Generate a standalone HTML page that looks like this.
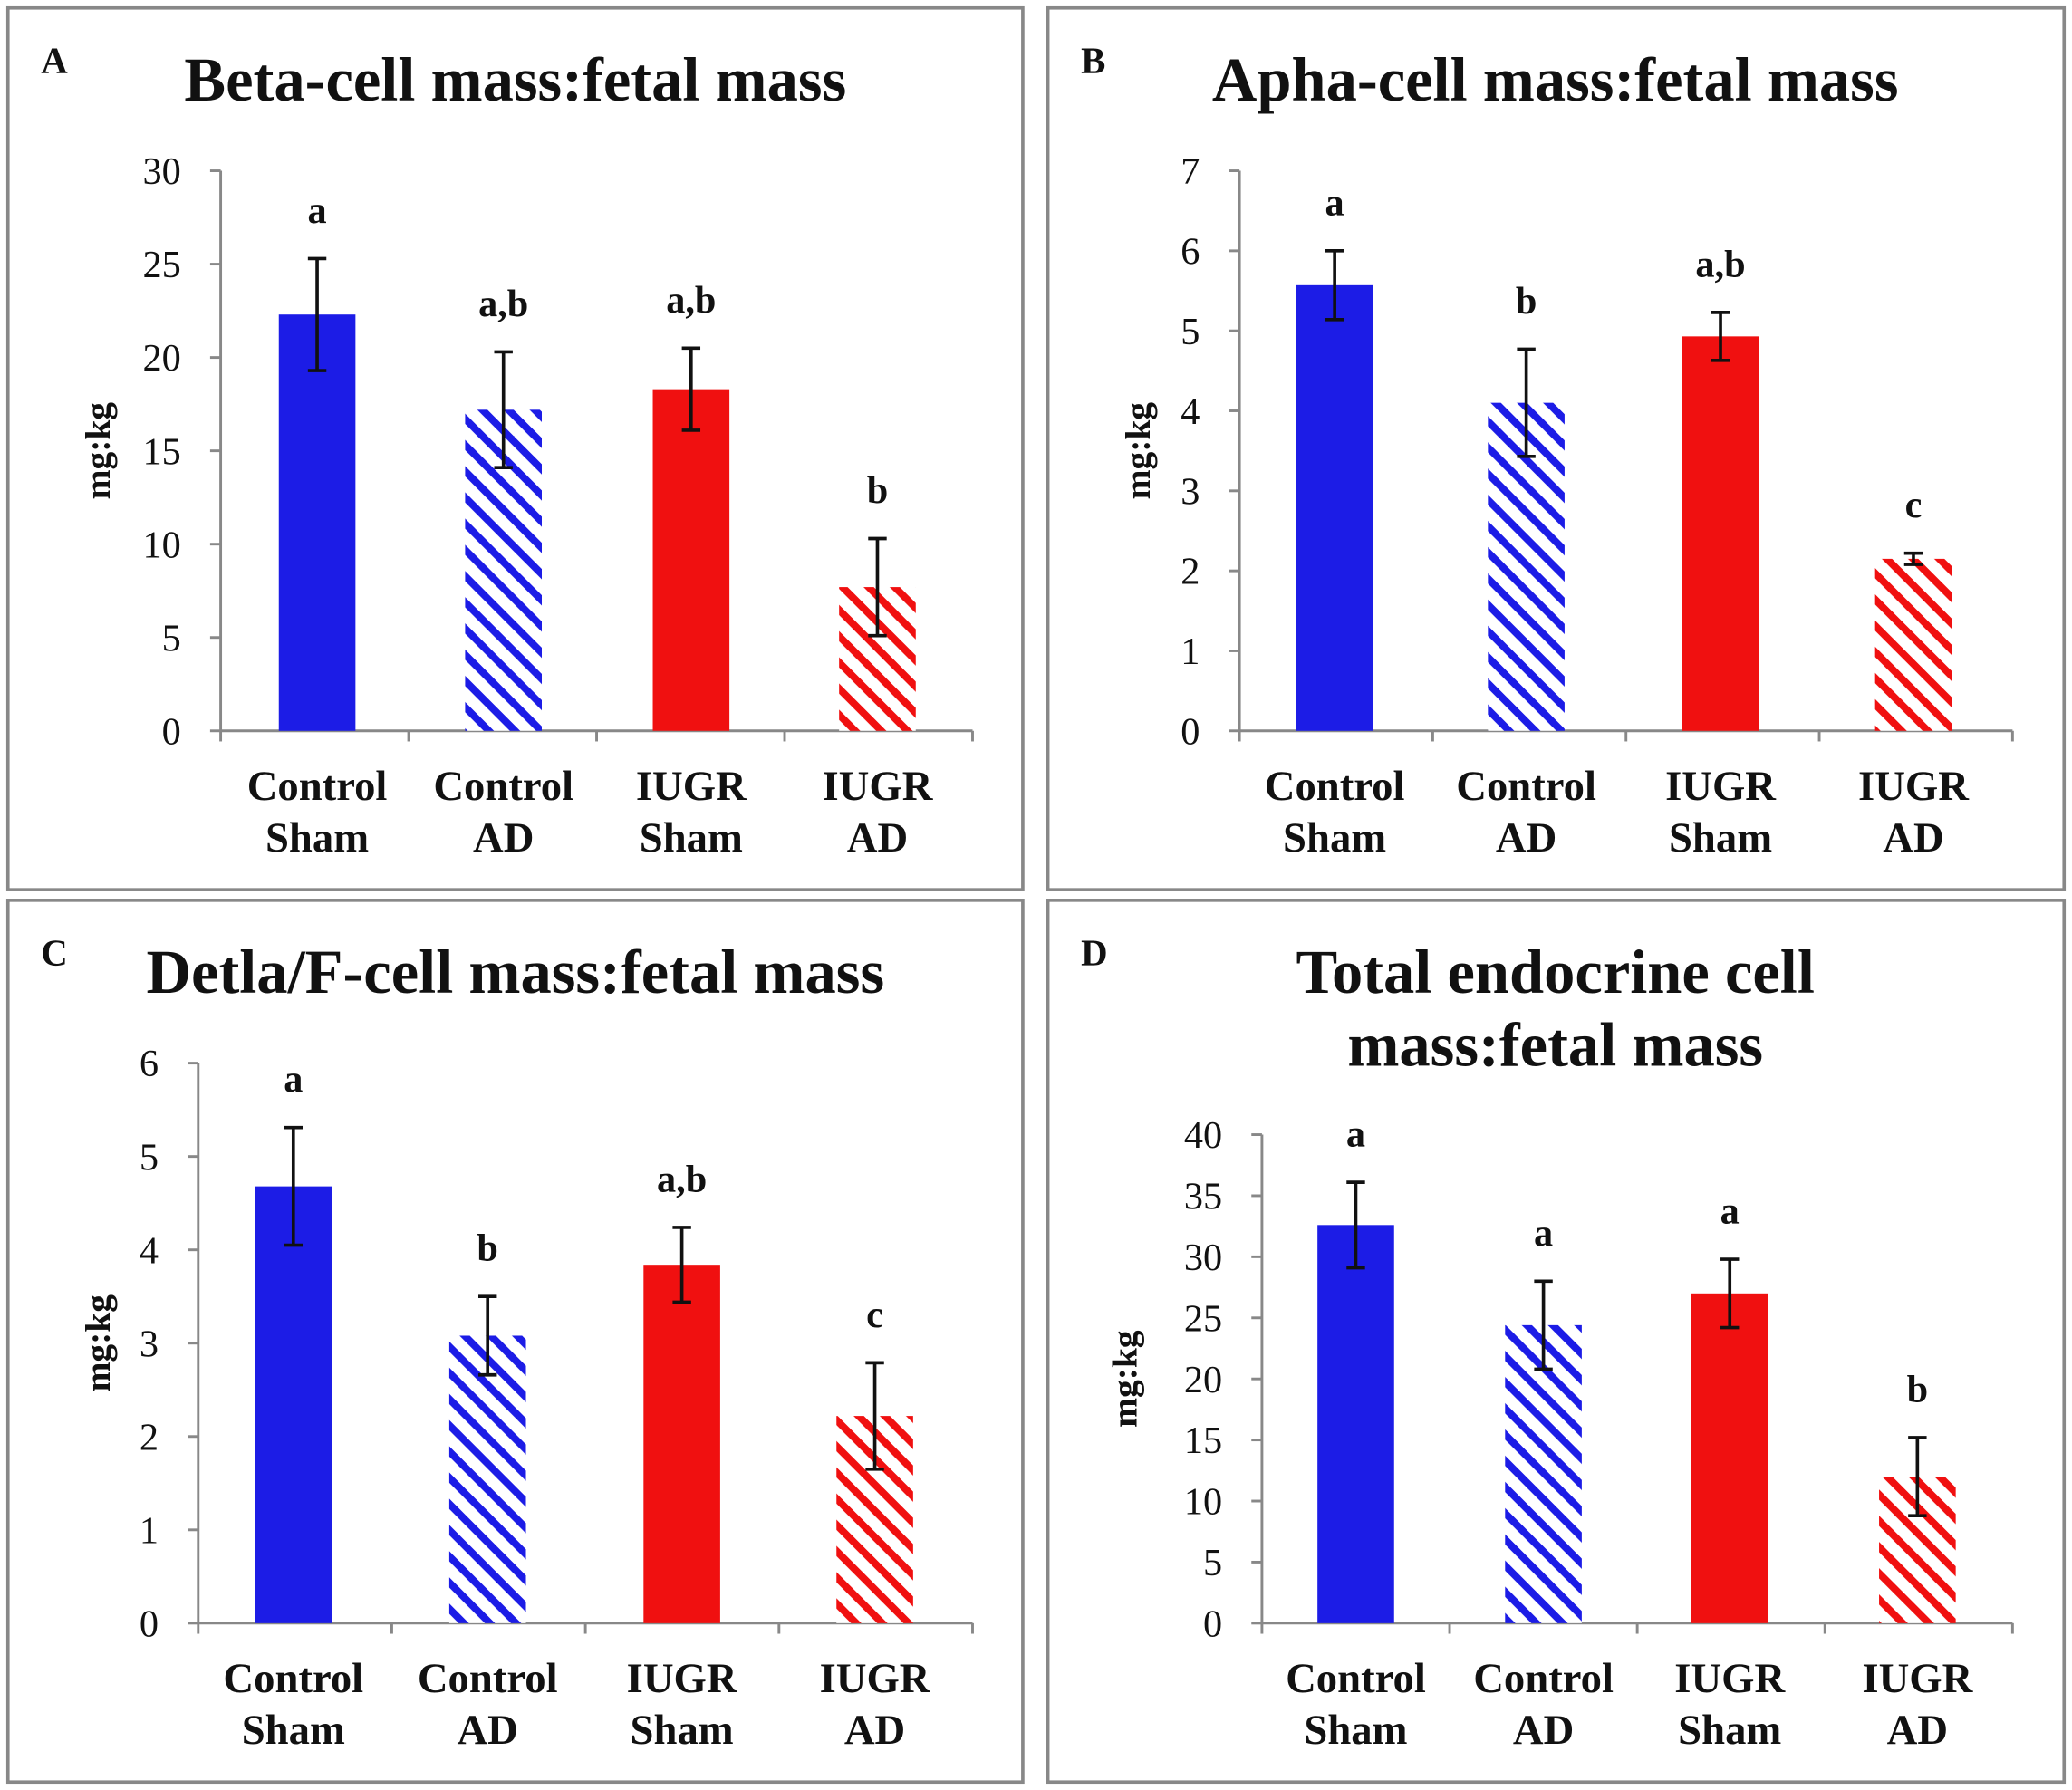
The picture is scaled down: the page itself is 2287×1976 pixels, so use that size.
<!DOCTYPE html>
<html><head><meta charset="utf-8"><style>
html,body{margin:0;padding:0;background:#fff}
svg{display:block}
text{font-family:"Liberation Serif",serif;font-weight:bold;fill:#111}
text.tick{font-weight:normal}
</style></head><body>
<svg id="chart" width="2287" height="1976" viewBox="0 0 1568 1352" preserveAspectRatio="none" xmlns="http://www.w3.org/2000/svg">
<defs>
<pattern id="hatchBlue" patternUnits="userSpaceOnUse" width="14" height="14" patternTransform="rotate(45)">
<rect width="14" height="14" fill="#fff"/><rect x="0" y="0" width="14" height="5.5" fill="#1c1ce6"/></pattern>
<pattern id="hatchRed" patternUnits="userSpaceOnUse" width="14" height="14" patternTransform="rotate(45)">
<rect width="14" height="14" fill="#fff"/><rect x="0" y="0" width="14" height="5.5" fill="#f01010"/></pattern>
</defs>
</svg>
<script>
const categories=[["Control","Sham"],["Control","AD"],["IUGR","Sham"],["IUGR","AD"]];
const valuesA=[22.3,17.2,18.3,7.7];
const errorsA=[3.0,3.1,2.2,2.6];
const lettersA=["a","a,b","a,b","b"];
const ticksA=[0,5,10,15,20,25,30];
const valuesB=[5.57,4.1,4.93,2.15];
const errorsB=[0.43,0.67,0.3,0.07];
const lettersB=["a","b","a,b","c"];
const ticksB=[0,1,2,3,4,5,6,7];
const valuesC=[4.68,3.08,3.84,2.22];
const errorsC=[0.63,0.42,0.4,0.57];
const lettersC=["a","b","a,b","c"];
const ticksC=[0,1,2,3,4,5,6];
const valuesD=[32.6,24.4,27.0,12.0];
const errorsD=[3.5,3.6,2.8,3.2];
const lettersD=["a","a","a","b"];
const ticksD=[0,5,10,15,20,25,30,35,40];

const NS="http://www.w3.org/2000/svg";
const svg=document.getElementById('chart');
function mk(tag,attrs,parent,txt){const e=document.createElementNS(NS,tag);for(const k in attrs)e.setAttribute(k,attrs[k]);if(txt!==undefined)e.textContent=txt;(parent||svg).appendChild(e);return e;}
const fills=["#1c1ce6","url(#hatchBlue)","#f01010","url(#hatchRed)"];

const panels=[
 {id:"a",box:[6,6,768,666],lab:"A",labXY:[31,55],title:["Beta-cell mass:fetal mass"],tx:390,ty:[76],x0:167,x1:736,y0:552,y1:129,vals:valuesA,errs:errorsA,lets:lettersA,ticks:ticksA,yl:75,centers:[240,381,523,664]},
 {id:"b",box:[793,6,769,666],lab:"B",labXY:[818,55],title:["Apha-cell mass:fetal mass"],tx:1177,ty:[76],x0:938,x1:1523,y0:552,y1:129,vals:valuesB,errs:errorsB,lets:lettersB,ticks:ticksB,yl:862,centers:[1010,1155,1302,1448]},
 {id:"c",box:[6,680,768,666],lab:"C",labXY:[31,729],title:["Detla/F-cell mass:fetal mass"],tx:390,ty:[750],x0:150,x1:736,y0:1226,y1:803,vals:valuesC,errs:errorsC,lets:lettersC,ticks:ticksC,yl:75,centers:[222,369,516,662]},
 {id:"d",box:[793,680,769,666],lab:"D",labXY:[818,729],title:["Total endocrine cell","mass:fetal mass"],tx:1177,ty:[750,805],x0:955,x1:1523,y0:1226,y1:857,vals:valuesD,errs:errorsD,lets:lettersD,ticks:ticksD,yl:852,centers:[1026,1168,1309,1451]}
];

panels.forEach(p=>{
 const g=mk('g',{});
 
 
 const box=mk('rect',{x:p.box[0],y:p.box[1],width:p.box[2],height:p.box[3],fill:"none",stroke:"#888","stroke-width":2.5},g);
 
 
 const pl=mk('text',{x:p.labXY[0],y:p.labXY[1],"font-size":28},g,p.lab);
 
 
 p.title.forEach((t,i)=>{
  const te=mk('text',{x:p.tx,y:p.ty[i],"font-size":47,"text-anchor":"middle"},g,t);
  
  
 });
 const maxT=p.ticks[p.ticks.length-1];
 const yS=v=>p.y0-(v/maxT)*(p.y0-p.y1);
 const ya=mk('line',{x1:p.x0,y1:p.y1,x2:p.x0,y2:p.y0,stroke:"#888","stroke-width":2},g);
 
 
 p.ticks.forEach(t=>{
  const y=yS(t);
  mk('line',{x1:p.x0-8,y1:y,x2:p.x0,y2:y,stroke:"#888","stroke-width":2},g);
  const tl=mk('text',{x:p.x0-30,y:y+10,"font-size":29,"class":"tick","text-anchor":"end"},g,String(t));
  
  
 });
 const yt=mk('text',{x:0,y:0,"font-size":27,"text-anchor":"middle",transform:`translate(${p.yl+8},${(p.y0+p.y1)/2}) rotate(-90)`},g,"mg:kg");
 
 
 const xa=mk('line',{x1:p.x0,y1:p.y0,x2:p.x1,y2:p.y0,stroke:"#888","stroke-width":2},g);
 
 
 const step=(p.x1-p.x0)/p.vals.length;
 for(let i=0;i<=p.vals.length;i++){const x=p.x0+i*step;mk('line',{x1:x,y1:p.y0,x2:x,y2:p.y0+8,stroke:"#888","stroke-width":2},g);}
 p.vals.forEach((v,i)=>{
  const cx=p.centers[i];
  const bw=58;
  const b=mk('rect',{x:cx-bw/2,y:yS(v),width:bw,height:p.y0-yS(v),fill:fills[i]},g);
  
  
  const e=p.errs[i];
  const eg=mk('g',{stroke:"#111","stroke-width":2.5},g);
  
  
  mk('line',{x1:cx,y1:yS(v+e),x2:cx,y2:yS(v-e)},eg);
  mk('line',{x1:cx-7,y1:yS(v+e),x2:cx+7,y2:yS(v+e)},eg);
  mk('line',{x1:cx-7,y1:yS(v-e),x2:cx+7,y2:yS(v-e)},eg);
  const sl=mk('text',{x:cx,y:yS(v+e)-27,"font-size":29,"text-anchor":"middle"},g,p.lets[i]);
  
  
  categories[i].forEach((c,j)=>{
   const cl=mk('text',{x:cx,y:p.y0+52+j*39,"font-size":32,"text-anchor":"middle"},g,c);
   
   
  });
 });
});
</script>
</body></html>
